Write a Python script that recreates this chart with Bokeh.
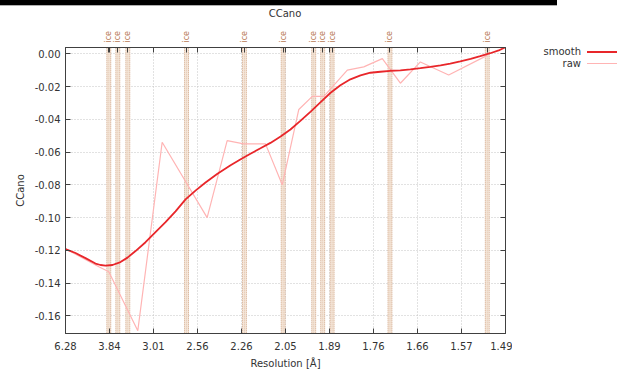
import math
import numpy as np
from bokeh.plotting import figure
from bokeh.models import (Div, Range1d, FixedTicker, CustomJSTickFormatter, LinearAxis,
                          NumeralTickFormatter)
from bokeh.layouts import column, row
from bokeh.embed import file_html
from bokeh.resources import INLINE

# ---------------- data ----------------
title_text = "CCano"
x_tick_labels = ["6.28", "3.84", "3.01", "2.56", "2.26", "2.05", "1.89", "1.76", "1.66", "1.57", "1.49"]
res_min, res_max = 6.28, 1.49          # resolution range of the axis (Å)

raw_res = [6.28, 4.169, 3.858, 3.241, 2.902, 2.483, 2.347, 2.250, 2.139, 2.064,
           1.997, 1.947, 1.907, 1.833, 1.786, 1.737, 1.693, 1.648, 1.590, 1.520]
raw_cc = [-0.119, -0.130, -0.133, -0.169, -0.054, -0.100, -0.053, -0.055, -0.055, -0.080,
          -0.034, -0.026, -0.026, -0.010, -0.008, -0.003, -0.018, -0.005, -0.013, -0.001]

smooth_res = [6.280, 5.344, 4.731, 4.290, 4.111, 3.953, 3.759, 3.569, 3.425, 3.279,
              3.121, 2.984, 2.863, 2.756, 2.660, 2.574, 2.495, 2.410, 2.326, 2.262,
              2.214, 2.163, 2.116, 2.071, 2.030, 1.991, 1.953, 1.918, 1.885, 1.854,
              1.824, 1.795, 1.768, 1.742, 1.717, 1.693, 1.670, 1.648, 1.627, 1.606,
              1.587, 1.568, 1.549, 1.532, 1.515, 1.501, 1.490]
smooth_cc = [-0.1192, -0.1216, -0.1247, -0.1280, -0.1289, -0.1293, -0.1289, -0.1271, -0.1244, -0.1204,
             -0.1150, -0.1089, -0.1028, -0.0962, -0.0889, -0.0835, -0.0786, -0.0732, -0.0680, -0.0641,
             -0.0610, -0.0577, -0.0544, -0.0505, -0.0462, -0.0410, -0.0353, -0.0295, -0.0238, -0.0192,
             -0.0156, -0.0132, -0.0116, -0.0110, -0.0104, -0.0101, -0.0095, -0.0088, -0.0080, -0.0071,
             -0.0060, -0.0047, -0.0032, -0.0015, 0.0003, 0.0020, 0.0040]

ice_res = [3.858, 3.630, 3.419, 2.651, 2.246, 2.060, 1.942, 1.911, 1.880, 1.718, 1.520]

y_ticks = [-0.16, -0.14, -0.12, -0.10, -0.08, -0.06, -0.04, -0.02, 0.00]

series_names = ["smooth", "raw"]

# ---------------- helpers ----------------
def s(d):
    return 1.0 / np.asarray(d, dtype=float) ** 2

xmin, xmax = float(s(res_min)), float(s(res_max))
x_tick_pos = [float(v) for v in np.linspace(xmin, xmax, len(x_tick_labels))]
ice_pos = [float(v) for v in s(ice_res)]
band_half = 0.0019

FONT = "DejaVu Sans"
TXT = "#333333"
AX = "#404040"
SMOOTH_C = "#e8262a"
RAW_C = "#ffb4b4"
series_colors = [SMOOTH_C, RAW_C]
series_widths = [2, 1]

HEAD_H = 24          # black bar + title strip
FIG_H = 371 - HEAD_H

p = figure(width=512, height=FIG_H, output_backend="svg", toolbar_location=None, title=None,
           x_range=Range1d(xmin, xmax), y_range=Range1d(-0.1707, 0.0038),
           min_border_left=65, min_border_right=7, min_border_top=23, min_border_bottom=37)
p.outline_line_color = AX

# grid
xt = FixedTicker(ticks=x_tick_pos)
yt = FixedTicker(ticks=y_ticks)
p.xgrid.ticker = xt
p.ygrid.ticker = yt
for g in (p.xgrid, p.ygrid):
    g.grid_line_color = "#c4c4c4"
    g.grid_line_dash = "1 2"
    g.grid_line_width = 1

# ice bands
ice_left = [v - band_half for v in ice_pos]
ice_right = [v + band_half for v in ice_pos]
p.quad(left=ice_left, right=ice_right, bottom=-1, top=1, fill_color="#f5e7da",
       line_color=None)
p.segment(x0=ice_left, x1=ice_left, y0=-1, y1=1, line_color="#cfa282", line_dash="1 1", line_width=1)
p.segment(x0=ice_right, x1=ice_right, y0=-1, y1=1, line_color="#cfa282", line_dash="1 1", line_width=1)
p.segment(x0=ice_pos, x1=ice_pos, y0=-1, y1=1, line_color="#e0c2ab", line_dash="1 1", line_width=1)

# data lines
p.line(s(raw_res), raw_cc, line_color=RAW_C, line_width=1.2)
p.line(s(smooth_res), smooth_cc, line_color=SMOOTH_C, line_width=1.8)

# bottom axis
xa = p.xaxis[0]
xa.ticker = xt
xa.formatter = CustomJSTickFormatter(args=dict(labels=x_tick_labels), code="return labels[index];")
xa.axis_label = "Resolution [Å]"
# left axis
ya = p.yaxis[0]
ya.ticker = yt
ya.formatter = NumeralTickFormatter(format="0.00")
ya.axis_label = "CCano"

for a in (xa, ya):
    a.major_tick_in = 5
    a.major_tick_out = 0
    a.minor_tick_in = 0
    a.minor_tick_out = 0
    a.axis_line_color = AX
    a.major_tick_line_color = AX
    a.major_label_text_font = FONT
    a.major_label_text_font_size = "10px"
    a.major_label_text_color = TXT
    a.axis_label_text_font = FONT
    a.axis_label_text_font_size = "10px"
    a.axis_label_text_font_style = "normal"
    a.axis_label_text_color = TXT
xa.major_label_standoff = 8
xa.axis_label_standoff = 5
ya.major_label_standoff = 5
ya.axis_label_standoff = 6

# top axis: mirrored ticks + ice labels
top = LinearAxis(ticker=FixedTicker(ticks=x_tick_pos + ice_pos),
                 formatter=CustomJSTickFormatter(args=dict(ice=ice_pos),
                     code="for (const v of ice) { if (Math.abs(v - tick) < 1e-9) return 'ice'; } return '';"))
top.major_tick_in = 5
top.major_tick_out = 0
top.minor_tick_in = 0
top.minor_tick_out = 0
top.axis_line_color = AX
top.major_tick_line_color = AX
top.major_label_orientation = math.pi / 2
top.major_label_text_font = FONT
top.major_label_text_font_size = "8px"
top.major_label_text_color = "#b87a55"
top.major_label_standoff = 5
p.add_layout(top, "above")

# right axis: mirrored ticks only
right = LinearAxis(ticker=yt, formatter=CustomJSTickFormatter(code="return '';"))
right.major_tick_in = 5
right.major_tick_out = 0
right.minor_tick_in = 0
right.minor_tick_out = 0
right.axis_line_color = AX
right.major_tick_line_color = AX
right.major_label_text_font_size = "0px"
right.major_label_standoff = 0
p.add_layout(right, "right")

# legend panel (text to the left of the sample line, as in the reference)
legend_html = ['<div style="position:relative;width:109px;height:60px;'
               'font-family:\'DejaVu Sans\';font-size:10px;color:#333">']
for i, (name, c, w) in enumerate(zip(series_names, series_colors, series_widths)):
    ty = 22 + i * 11.5
    legend_html.append(f'<div style="position:absolute;top:{ty}px;left:0;width:69px;'
                       f'text-align:right;line-height:12px;white-space:nowrap">{name}</div>')
    legend_html.append(f'<div style="position:absolute;top:{ty + 6 - w / 2}px;left:75px;width:30px;'
                       f'height:0;border-top:{w}px solid {c}"></div>')
legend_html.append('</div>')
lg = Div(width=109, height=FIG_H, margin=0, text="".join(legend_html))

head = Div(width=621, height=HEAD_H, margin=0,
           text=('<div style="height:6px;width:557px;background:#000;border-bottom:1px solid #b0b0b0"></div>'
                 '<div style="width:440px;margin-left:65px;margin-top:2px;text-align:center;'
                 'font-family:\'DejaVu Sans\';font-size:10px;line-height:12px;color:#333">'
                 + title_text + '</div>'))
layout = column(head, row(p, lg, spacing=0), spacing=0)

open("out.html", "w").write(file_html(layout, INLINE))
